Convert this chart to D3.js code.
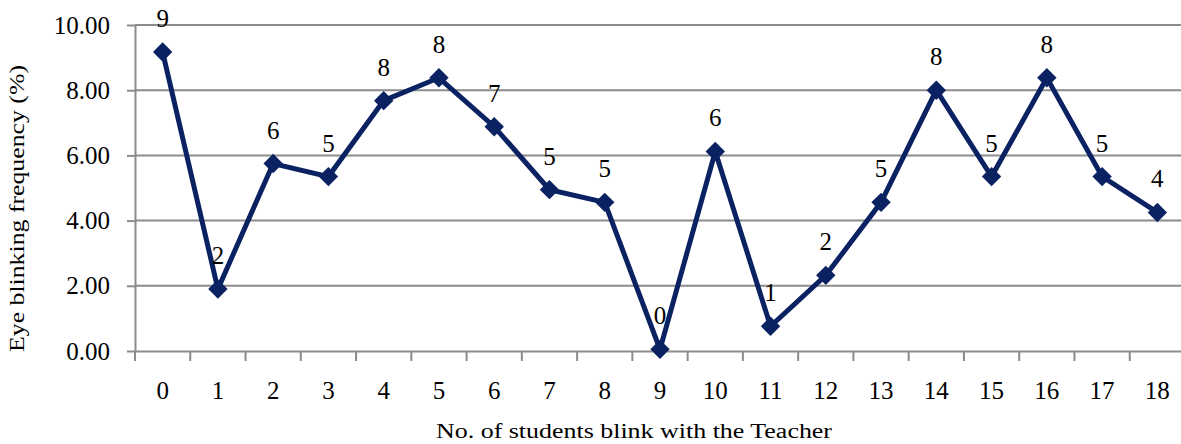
<!DOCTYPE html>
<html>
<head>
<meta charset="utf-8">
<script src="https://cdn.jsdelivr.net/npm/d3@7"></script>
<style>
  body { margin: 0; background: #fff; }
</style>
</head>
<body>
<div id="chart"></div>
<script>
  "use strict";

  var categories = ["0","1","2","3","4","5","6","7","8","9","10","11","12","13","14","15","16","17","18"];
  var values = [9.17, 1.90, 5.75, 5.35, 7.68, 8.38, 6.88, 4.95, 4.56, 0.05, 6.12, 0.76, 2.32, 4.56, 8.00, 5.35, 8.38, 5.35, 4.25];
  var yTicks = [0, 2, 4, 6, 8, 10];

  var width = 1181, height = 444;
  var margin = {top: 25, left: 135, bottom: 93, plotWidth: 1050};
  var lineColor = "#0b2262";
  var gridColor = "#8c8c8c";
  var serif = "'Liberation Serif', 'Times New Roman', Times, serif";

  var svg = d3.select("#chart")
    .append("svg")
    .attr("width", width)
    .attr("height", height)
    .style("font-family", serif);

  var x = d3.scaleBand()
    .domain(categories)
    .range([margin.left, margin.left + margin.plotWidth]);

  var y = d3.scaleLinear()
    .domain([0, 10])
    .range([height - margin.bottom, margin.top]);

  // y axis with ticks
  var yAxis = svg.append("g")
    .attr("transform", "translate(" + margin.left + ",0)")
    .call(d3.axisLeft(y).tickValues(yTicks).tickSize(8).tickSizeOuter(0).tickFormat(d3.format(".2f")));
  yAxis.select(".domain").attr("stroke", gridColor).attr("stroke-width", 2);
  yAxis.selectAll(".tick line").attr("stroke", gridColor).attr("stroke-width", 2);
  yAxis.selectAll(".tick text")
    .attr("x", -25)
    .style("font-family", serif)
    .style("font-size", "25px");

  // gridlines
  svg.append("g")
    .selectAll("line")
    .data(yTicks.filter(function(d) { return d > 0; }))
    .enter()
    .append("line")
    .attr("x1", margin.left)
    .attr("x2", margin.left + margin.plotWidth)
    .attr("y1", function(d) { return y(d); })
    .attr("y2", function(d) { return y(d); })
    .attr("stroke", gridColor)
    .attr("stroke-width", 2);

  // x axis
  var xAxis = svg.append("g")
    .attr("transform", "translate(0," + y(0) + ")")
    .call(d3.axisBottom(x).tickSize(0).tickSizeOuter(0));
  xAxis.select(".domain").attr("stroke", gridColor).attr("stroke-width", 2);
  xAxis.selectAll(".tick text")
    .attr("y", 30)
    .style("font-family", serif)
    .style("font-size", "25px");

  // tick marks between categories
  xAxis.selectAll(".sep")
    .data(categories)
    .enter()
    .append("line")
    .attr("class", "sep")
    .attr("x1", function(d) { return x(d); })
    .attr("x2", function(d) { return x(d); })
    .attr("y1", 0)
    .attr("y2", 10)
    .attr("stroke", gridColor)
    .attr("stroke-width", 2);

  var cx = function(d, i) { return x(categories[i]) + x.bandwidth() / 2; };

  // line
  var line = d3.line()
    .x(function(d, i) { return cx(d, i); })
    .y(function(d) { return y(d); });

  svg.append("path")
    .datum(values)
    .attr("d", line)
    .attr("fill", "none")
    .attr("stroke", lineColor)
    .attr("stroke-width", 5)
    .attr("stroke-linejoin", "miter");

  // markers
  svg.append("g")
    .selectAll("path")
    .data(values)
    .enter()
    .append("path")
    .attr("d", d3.symbol().type(d3.symbolDiamond2).size(240))
    .attr("transform", function(d, i) {
      return "translate(" + cx(d, i) + "," + y(d) + ")";
    })
    .attr("fill", lineColor);

  // data labels
  svg.append("g")
    .selectAll("text")
    .data(values)
    .enter()
    .append("text")
    .attr("x", function(d, i) { return cx(d, i); })
    .attr("y", function(d) { return y(d) - 25; })
    .attr("text-anchor", "middle")
    .style("font-family", serif)
    .style("font-size", "25px")
    .text(function(d) { return Math.round(d); });

  // axis titles
  svg.append("text")
    .attr("x", 436)
    .attr("y", 438)
    .attr("textLength", 396)
    .attr("lengthAdjust", "spacingAndGlyphs")
    .style("font-family", serif)
    .style("font-size", "20px")
    .text("No. of students blink with the Teacher");

  svg.append("text")
    .attr("transform", "translate(24,352) rotate(-90)")
    .attr("textLength", 287)
    .attr("lengthAdjust", "spacingAndGlyphs")
    .style("font-family", serif)
    .style("font-size", "20px")
    .text("Eye blinking frequency (%)");
</script>
</body>
</html>
